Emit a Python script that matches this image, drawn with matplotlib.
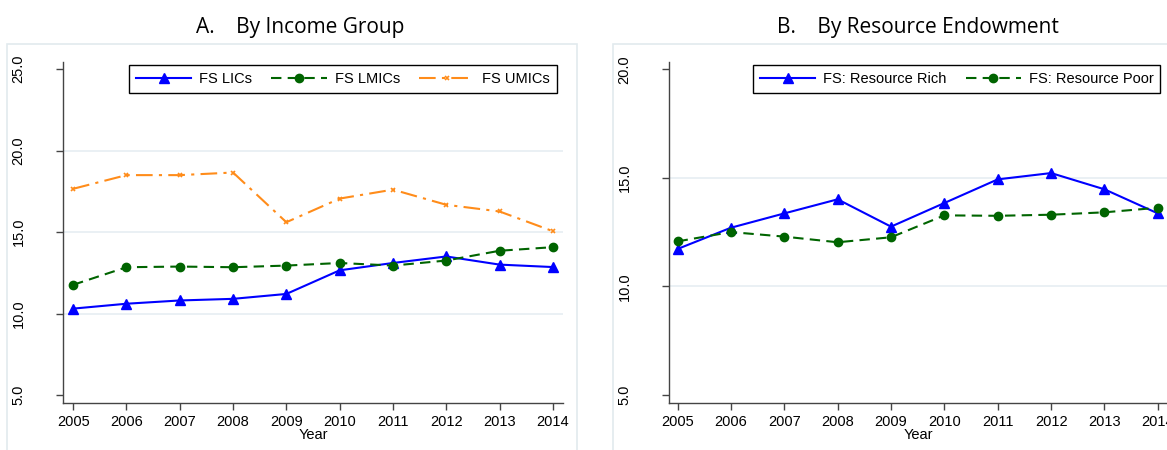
import matplotlib
matplotlib.use("Agg")
import matplotlib.pyplot as plt
from matplotlib.patches import Rectangle

# 数据
years = [2005, 2006, 2007, 2008, 2009, 2010, 2011, 2012, 2013, 2014]

fs_lics = [10.3, 10.6, 10.8, 10.9, 11.2, 12.65, 13.1, 13.5, 13.0, 12.85]
fs_lmics = [11.76, 12.84, 12.88, 12.84, 12.94, 13.1, 12.94, 13.25, 13.85, 14.07]
fs_umics = [17.65, 18.49, 18.49, 18.65, 15.6, 17.05, 17.6, 16.67, 16.26, 15.05]

fs_rich = [11.72, 12.7, 13.36, 14.01, 12.75, 13.84, 14.93, 15.22, 14.47, 13.36]
fs_poor = [12.07, 12.5, 12.29, 12.03, 12.26, 13.27, 13.25, 13.3, 13.41, 13.62]

left_yticks = [5, 10, 15, 20, 25]
right_yticks = [5, 10, 15, 20]

plt.rcParams['font.family'] = ['Liberation Sans', 'DejaVu Sans']

W, H = 1167, 450
fig = plt.figure(figsize=(W / 100, H / 100), dpi=100)


def px_box(x0, y0, x1, y1):
    # 像素坐标(左上原点) -> figure 坐标
    return [x0 / W, 1 - y1 / H, (x1 - x0) / W, (y1 - y0) / H]


# 浅色外框
for x0, x1 in [(7, 577), (613, 1180)]:
    fig.patches.append(Rectangle((x0 / W, -0.05), (x1 - x0) / W, 1.05 - 44 / H,
                                 transform=fig.transFigure, fill=False,
                                 edgecolor='#e2eaee', lw=1.2))

BLUE = '#0000ff'
GREEN = '#006400'
ORANGE = '#ff8c1a'
GRID = '#e6eef2'


def style_axes(ax, yticks, xlim, ylim):
    ax.set_xlim(*xlim)
    ax.set_ylim(*ylim)
    ax.set_xticks(years)
    ax.set_yticks(yticks)
    ax.set_yticklabels([f"{v:.1f}" for v in yticks], rotation=90, va='center')
    for t in yticks[1:-1]:
        ax.axhline(t, color=GRID, lw=1.2, zorder=0)
    for s in ['top', 'right']:
        ax.spines[s].set_visible(False)
    for s in ['left', 'bottom']:
        ax.spines[s].set_color('#444444')
        ax.spines[s].set_linewidth(1.0)
    ax.tick_params(axis='x', length=5, width=1, color='#444444', labelsize=10.5, pad=4)
    ax.tick_params(axis='y', length=5, width=1, color='#444444', labelsize=10.5, pad=22)
    ax.set_xlabel('Year', fontsize=10.5, labelpad=-1)


def add_legend(ax, ncol, cx):
    leg = ax.legend(ncol=ncol, loc='upper center', bbox_to_anchor=(cx, 0.99), fontsize=10.5,
                    handlelength=3.8, handletextpad=0.55, columnspacing=1.3,
                    fancybox=False, framealpha=1, edgecolor='black', borderpad=0.45,
                    borderaxespad=0)
    leg.get_frame().set_linewidth(1.0)


# A. 收入组
ax1 = fig.add_axes(px_box(63, 62, 563, 403))
ax1.plot(years, fs_lics, color=BLUE, lw=1.5, marker='^', ms=7, label='FS LICs')
ax1.plot(years, fs_lmics, color=GREEN, lw=1.5, ls=(0, (5, 3)), marker='o', ms=6, label='FS LMICs')
ax1.plot(years, fs_umics, color=ORANGE, lw=1.5, ls=(0, (8, 3, 1.5, 3)), marker='x', ms=3.5,
         mew=1.2, label='FS UMICs')
style_axes(ax1, left_yticks, (2004.81, 2014.19), (4.51, 25.43))
add_legend(ax1, 3, 0.56)

# B. 资源禀赋
ax2 = fig.add_axes(px_box(669, 62, 1168, 403))
ax2.plot(years, fs_rich, color=BLUE, lw=1.5, marker='^', ms=7, label='FS: Resource Rich')
ax2.plot(years, fs_poor, color=GREEN, lw=1.5, ls=(0, (5, 3)), marker='o', ms=6,
         label='FS: Resource Poor')
style_axes(ax2, right_yticks, (2004.84, 2014.19), (4.62, 20.34))
add_legend(ax2, 2, 0.577)

# 面板标题
fig.text(300 / W, 1 - 28 / H, 'A.    By Income Group', ha='center', va='center',
         fontsize=15, family=['Open Sans', 'DejaVu Sans'])
fig.text(918 / W, 1 - 28 / H, 'B.    By Resource Endowment', ha='center', va='center',
         fontsize=15, family=['Open Sans', 'DejaVu Sans'])

fig.savefig('out.png', dpi=100)
